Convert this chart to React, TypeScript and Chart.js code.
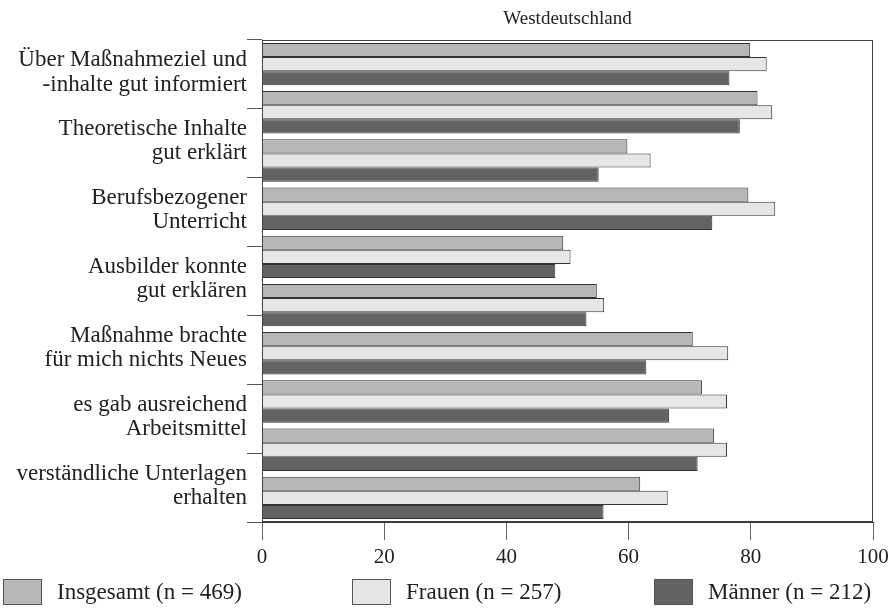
import React, { useEffect, useRef } from "react";
import { Chart, registerables } from "chart.js";

Chart.register(...registerables);

const TITLE = "Westdeutschland";

const ITEM_LABELS: string[][] = [
  ["Über Maßnahmeziel und", "-inhalte gut informiert"],
  ["Theoretische Inhalte", "gut erklärt"],
  ["Berufsbezogener", "Unterricht"],
  ["Ausbilder konnte", "gut erklären"],
  ["Maßnahme brachte", "für mich nichts Neues"],
  ["es gab ausreichend", "Arbeitsmittel"],
  ["verständliche Unterlagen", "erhalten"],
];

const BAR_GROUPS = ["1", "2", "3", "4", "5", "6", "7", "8", "9", "10"];

const SERIES_NAMES = ["Insgesamt (n = 469)", "Frauen (n = 257)", "Männer (n = 212)"];

const INSGESAMT = [79.9, 81.1, 59.8, 79.6, 49.3, 54.8, 70.5, 72.0, 74.0, 61.9];
const FRAUEN = [82.6, 83.5, 63.6, 84.0, 50.5, 56.0, 76.3, 76.1, 76.1, 66.4];
const MAENNER = [76.5, 78.2, 55.1, 73.7, 48.0, 53.1, 62.9, 66.6, 71.3, 55.9];

const X_MIN = 0;
const X_MAX = 100;
const X_STEP = 20;

const COLORS = ["#b7b7b7", "#e6e6e6", "#636363"];
const FONT = "Liberation Serif";
const TEXT = "#222222";

Chart.defaults.font.family = FONT;
Chart.defaults.color = TEXT;

const framePlugin = {
  id: "frame",
  afterDatasetsDraw(chart: any) {
    const { ctx, chartArea } = chart;
    ctx.save();
    ctx.strokeStyle = "#444444";
    ctx.lineWidth = 1;
    const l = Math.round(chartArea.left) + 0.5;
    const t = Math.round(chartArea.top) + 0.5;
    const r = Math.round(chartArea.right) - 0.5;
    const b = Math.round(chartArea.bottom) - 0.5;
    ctx.strokeRect(l, t, r - l, b - t);
    ctx.restore();
  },
};

const legendPlugin = {
  id: "bottomLegend",
  afterDraw(chart: any) {
    const ctx = chart.ctx;
    const xs = [3, 352, 654];
    const boxTop = 579;
    const boxW = 38;
    const boxH = 25;
    chart.data.datasets.forEach((ds: any, i: number) => {
      ctx.save();
      ctx.fillStyle = ds.backgroundColor;
      ctx.fillRect(xs[i] + 0.5, boxTop + 0.5, boxW, boxH);
      ctx.strokeStyle = "#555555";
      ctx.lineWidth = 1;
      ctx.strokeRect(xs[i] + 0.5, boxTop + 0.5, boxW, boxH);
      ctx.font = `23px ${FONT}`;
      ctx.fillStyle = TEXT;
      ctx.textBaseline = "middle";
      ctx.textAlign = "left";
      ctx.fillText(ds.label, xs[i] + 54, boxTop + boxH / 2 + 1);
      ctx.restore();
    });
  },
};

export default function App() {
  const canvasRef = useRef<HTMLCanvasElement | null>(null);

  useEffect(() => {
    document.body.style.margin = "0";
    const canvas = canvasRef.current;
    if (!canvas) return;
    const series = [INSGESAMT, FRAUEN, MAENNER];
    const chart = new Chart(canvas, {
      type: "bar",
      data: {
        labels: BAR_GROUPS,
        datasets: series.map((values, i) => ({
          label: SERIES_NAMES[i],
          data: values,
          backgroundColor: COLORS[i],
          borderColor: "#333333",
          borderWidth: 1,
          categoryPercentage: 0.88,
          barPercentage: 1.0,
          xAxisID: "x",
          yAxisID: "y",
        })),
      },
      options: {
        indexAxis: "y",
        responsive: false,
        animation: false,
        devicePixelRatio: 1,
        layout: { padding: { top: 0, right: 19, bottom: 43, left: 0 } },
        plugins: {
          legend: { display: false },
          tooltip: { enabled: false },
          title: {
            display: true,
            text: TITLE,
            fullSize: false,
            color: TEXT,
            font: { family: FONT, size: 19, weight: "normal", lineHeight: 1.2 },
            padding: { top: 8, bottom: 9.2 },
          },
        },
        scales: {
          x: {
            type: "linear",
            position: "bottom",
            min: X_MIN,
            max: X_MAX,
            ticks: {
              stepSize: X_STEP,
              color: TEXT,
              padding: 5,
              font: { family: FONT, size: 21, weight: "normal" },
            },
            grid: {
              drawOnChartArea: false,
              drawTicks: true,
              tickLength: 18,
              color: "#666666",
              lineWidth: 1,
            },
            border: { color: "#333333", width: 1 },
            afterFit: (scale: any) => {
              scale.height = 50;
              scale.paddingLeft = 0;
              scale.paddingRight = 0;
            },
          },
          y: {
            type: "category",
            display: false,
            offset: true,
          },
          yl: {
            type: "category",
            axis: "y",
            position: "left",
            labels: ITEM_LABELS as any,
            offset: true,
            ticks: {
              color: TEXT,
              padding: 0,
              labelOffset: -2,
              font: { family: FONT, size: 23, weight: "normal", lineHeight: 1.05 },
            },
            grid: {
              offset: true,
              drawOnChartArea: false,
              drawTicks: true,
              tickLength: 15,
              color: "#555555",
              lineWidth: 1,
            },
            border: { color: "#333333", width: 1 },
            afterFit: (scale: any) => {
              scale.width = 262;
              scale.paddingTop = 0;
              scale.paddingBottom = 0;
            },
          },
        } as any,
      },
      plugins: [framePlugin, legendPlugin],
    });
    return () => chart.destroy();
  }, []);

  return (
    <div style={{ width: 892, height: 615 }}>
      <canvas ref={canvasRef} width={892} height={615} style={{ display: "block" }} />
    </div>
  );
}
